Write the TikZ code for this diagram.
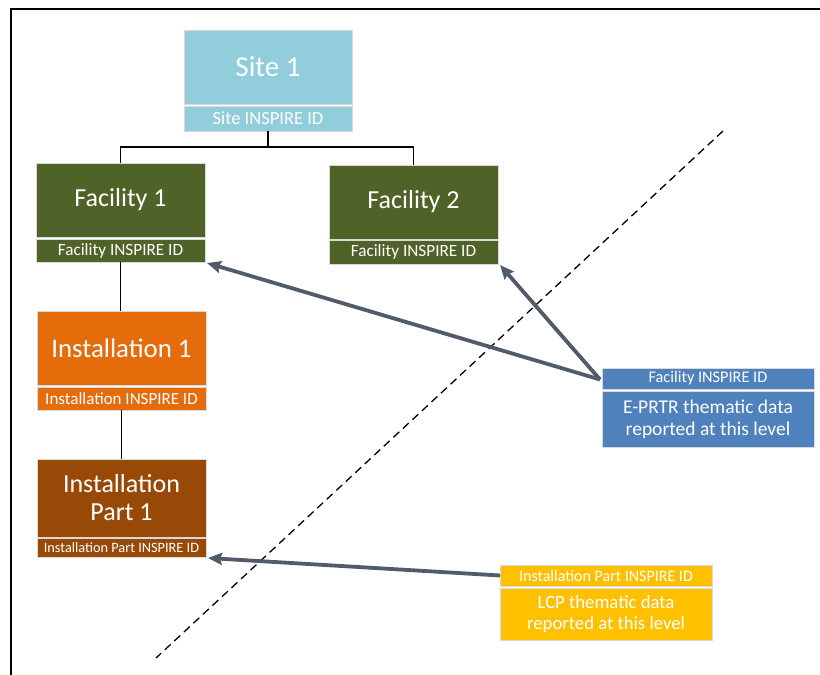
\documentclass[tikz,border=0pt]{standalone}
\usepackage{fontspec}
\setmainfont{Carlito}
\usetikzlibrary{arrows.meta}
\definecolor{siteC}{HTML}{92CDDC}
\definecolor{facC}{HTML}{4F6228}
\definecolor{instC}{HTML}{E46C0A}
\definecolor{partC}{HTML}{984807}
\definecolor{blueC}{HTML}{4F81BD}
\definecolor{yellowC}{HTML}{FFC000}
\definecolor{arrC}{HTML}{525B69}
\begin{document}
\begin{tikzpicture}[x=1pt,y=-1pt,
  boxbase/.style={rectangle, draw=white!85!black, line width=0.8pt, inner sep=0pt, outer sep=0pt,
    anchor=north west, text=white, align=center},
  bigtxt/.style={boxbase, font=\fontsize{26}{28}\selectfont},
  conn/.style={draw=black, line width=1.2pt},
  arr/.style={draw=arrC, line width=3.8pt, -{Stealth[length=14pt,width=12pt,inset=2pt]}},
]
\useasboundingbox (0,0) rectangle (820,675);
\fill[white] (0,0) rectangle (820,675);
% frame
\draw[line width=2.6pt, black] (11,676) -- (11,9) -- (821,9);

% Site
\node[boxbase, fill=siteC, minimum width=168pt, minimum height=74pt, font=\fontsize{29}{31}\selectfont] (site) at (184,30) {Site 1};
\node[boxbase, fill=siteC, minimum width=168pt, minimum height=25pt, font=\fontsize{18.5}{20}\selectfont] (siteid) at (184,106) {Site INSPIRE ID};

% Facility 1
\node[bigtxt, fill=facC, minimum width=169pt, minimum height=74pt] (fac1) at (36,163) {Facility 1};
\node[boxbase, fill=facC, minimum width=169pt, minimum height=23pt, font=\fontsize{17.2}{19}\selectfont] (fac1id) at (36,239) {Facility INSPIRE ID};

% Facility 2
\node[bigtxt, fill=facC, minimum width=169pt, minimum height=74pt] (fac2) at (329,165) {Facility 2};
\node[boxbase, fill=facC, minimum width=169pt, minimum height=24pt, font=\fontsize{17.2}{19}\selectfont] (fac2id) at (329,240) {Facility INSPIRE ID};

% Installation 1
\node[boxbase, fill=instC, minimum width=169pt, minimum height=74pt, font=\fontsize{26.8}{28}\selectfont] (inst1) at (37,311) {Installation 1};
\node[boxbase, fill=instC, minimum width=169pt, minimum height=23pt, font=\fontsize{17}{19}\selectfont] (inst1id) at (37,387) {Installation INSPIRE ID};

% Installation Part 1
\node[bigtxt, fill=partC, minimum width=169pt, minimum height=78pt] (part1) at (37,459) {Installation\\Part 1};
\node[boxbase, fill=partC, minimum width=169pt, minimum height=19pt, font=\fontsize{14.3}{16}\selectfont] (part1id) at (37,538) {Installation Part INSPIRE ID};

% Blue E-PRTR box
\node[boxbase, fill=blueC, minimum width=212pt, minimum height=21pt, font=\fontsize{16.3}{18}\selectfont] (blueid) at (602,368) {Facility INSPIRE ID};
\node[boxbase, fill=blueC, minimum width=212pt, minimum height=56pt, font=\fontsize{19.5}{22}\selectfont] (bluebody) at (602,391) {E-PRTR thematic data\\reported at this level};

% Yellow LCP box
\node[boxbase, fill=yellowC, minimum width=212pt, minimum height=21pt, font=\fontsize{16}{18}\selectfont] (yelid) at (500,565) {Installation Part INSPIRE ID};
\node[boxbase, fill=yellowC, minimum width=212pt, minimum height=52pt, font=\fontsize{18.7}{21.5}\selectfont] (yelbody) at (500,588) {LCP thematic data\\reported at this level};

% hierarchy connectors
\draw[conn] (siteid.south) -- ++(0,16) coordinate (j);
\draw[conn] (j) -| (fac1.north);
\draw[conn] (j) -| (fac2.north);
\draw[conn] (fac1id.south) -- (fac1id.south |- inst1.north);
\draw[conn] (inst1id.south) -- (inst1id.south |- part1.north);

% dashed divider
\coordinate (d1) at (723,131);
\coordinate (d2) at (156,658);
\draw[black, line width=1.3pt, dash pattern=on 8pt off 5pt] (d1) -- (d2);

% arrows
\coordinate (bstart) at ([shift={(-2,1)}]blueid.west);
\draw[arr] (bstart) -- ([shift={(2,1)}]fac1id.south east);
\draw[arr] (bstart) -- ([shift={(2,1)}]fac2id.south east);
\draw[arr] (yelid.west) -- ([shift={(2,1)}]part1id.south east);
\end{tikzpicture}
\end{document}
